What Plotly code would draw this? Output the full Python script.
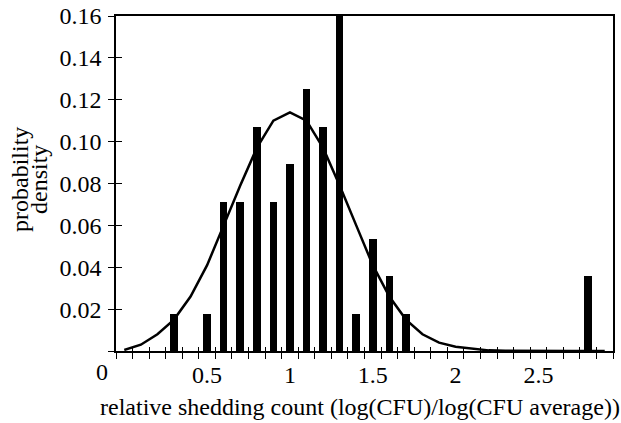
import plotly.graph_objects as go

# Data
bin_centers = [0.3, 0.5, 0.6, 0.7, 0.8, 0.9, 1.0, 1.1, 1.2, 1.3, 1.4, 1.5, 1.6, 1.7, 2.8]
bin_density = [0.0179, 0.0179, 0.0714, 0.0714, 0.1071, 0.0714, 0.0893, 0.1250, 0.1071,
               0.1607, 0.0179, 0.0536, 0.0357, 0.0179, 0.0357]

curve_x = [0.0, 0.1, 0.2, 0.3, 0.4, 0.5, 0.6, 0.7, 0.8, 0.9, 1.0, 1.1, 1.2, 1.3, 1.4,
           1.5, 1.6, 1.7, 1.8, 1.9, 2.0, 2.1, 2.2, 2.3, 2.4, 2.5, 2.6, 2.7, 2.8, 2.9]
curve_y = [0.0005, 0.003, 0.008, 0.015, 0.026, 0.041, 0.060, 0.079, 0.097, 0.110, 0.114,
           0.110, 0.097, 0.079, 0.060, 0.041, 0.026, 0.015, 0.008, 0.004, 0.002, 0.001,
           0.0003, 0.0001, 0.0, 0.0, 0.0, 0.0, 0.0, 0.0]

x_tick_vals = [0.5, 1.0, 1.5, 2.0, 2.5]
x_tick_text = ["0.5", "1", "1.5", "2", "2.5"]
x_boundaries = [-0.05 + 0.1 * k for k in range(31)]
y_tick_vals = [0, 0.02, 0.04, 0.06, 0.08, 0.10, 0.12, 0.14, 0.16]
y_tick_text = ["", "0.02", "0.04", "0.06", "0.08", "0.10", "0.12", "0.14", "0.16"]

FONT = "Liberation Serif"
FS = 24
XR = [-0.05, 2.95]
YR = [0, 0.16]

fig = go.Figure()
fig.add_trace(go.Bar(x=bin_centers, y=bin_density, width=0.046,
                     marker=dict(color="black", line=dict(width=0)), showlegend=False))
fig.add_trace(go.Scatter(x=curve_x, y=curve_y, mode="lines",
                         line=dict(color="black", width=2.5), showlegend=False))
# dummy trace for overlay axes (inside ticks)
fig.add_trace(go.Scatter(x=[None], y=[None], xaxis="x2", yaxis="y2", showlegend=False))

fig.update_layout(
    width=621, height=423,
    margin=dict(l=116, r=8, t=16, b=72, autoexpand=False),
    paper_bgcolor="white", plot_bgcolor="white",
    font=dict(family=FONT, size=FS, color="black"),
    bargap=0,
    xaxis=dict(range=XR, showgrid=False, zeroline=False, showline=True, linecolor="black",
               linewidth=1.5, mirror=True, tickmode="array", tickvals=x_tick_vals,
               ticktext=x_tick_text, ticks="outside", ticklen=0, tickcolor="rgba(0,0,0,0)",
               minor=dict(tickmode="array", tickvals=x_boundaries, ticks="outside",
                          ticklen=6, tickcolor="black", tickwidth=1.2, showgrid=False),
               tickfont=dict(family=FONT, size=FS), ticklabelstandoff=1, automargin=False),
    yaxis=dict(range=YR, showgrid=False, zeroline=False, showline=True, linecolor="black",
               linewidth=1.5, mirror=True, tickmode="array", tickvals=y_tick_vals,
               ticktext=y_tick_text, ticks="outside", ticklen=6, tickcolor="black",
               tickwidth=1.2, tickfont=dict(family=FONT, size=FS), ticklabelstandoff=2,
               automargin=False),
    xaxis2=dict(range=XR, overlaying="x", anchor="y", showgrid=False, zeroline=False,
                showline=False, tickmode="array", tickvals=x_boundaries, ticks="inside",
                ticklen=4, tickcolor="black", tickwidth=1.2, showticklabels=False,
                automargin=False),
    yaxis2=dict(range=YR, overlaying="y", anchor="x", showgrid=False, zeroline=False,
                showline=False, tickmode="array", tickvals=y_tick_vals, ticks="inside",
                ticklen=6, tickcolor="black", tickwidth=1.2, showticklabels=False,
                automargin=False),
)

annotations = [
    dict(text="0", xref="paper", yref="paper", x=(102 - 116) / 497, y=(351 - 372) / 335,
         xanchor="center", yanchor="middle", showarrow=False, font=dict(family=FONT, size=FS)),
    dict(text="relative shedding count (log(CFU)/log(CFU average))", xref="paper", yref="paper",
         x=(360 - 116) / 497, y=(351 - 407) / 335, xanchor="center", yanchor="middle",
         showarrow=False, font=dict(family=FONT, size=FS)),
    dict(text="probability", xref="paper", yref="paper", x=(20 - 116) / 497,
         y=(351 - 180) / 335, xanchor="center", yanchor="middle", textangle=-90,
         showarrow=False, font=dict(family=FONT, size=FS)),
    dict(text="density", xref="paper", yref="paper", x=(39 - 116) / 497,
         y=(351 - 180) / 335, xanchor="center", yanchor="middle", textangle=-90,
         showarrow=False, font=dict(family=FONT, size=FS)),
]
fig.update_layout(annotations=annotations)

fig.write_html("out.html", config={"displayModeBar": False},
               post_script="document.body.style.margin='0';")
